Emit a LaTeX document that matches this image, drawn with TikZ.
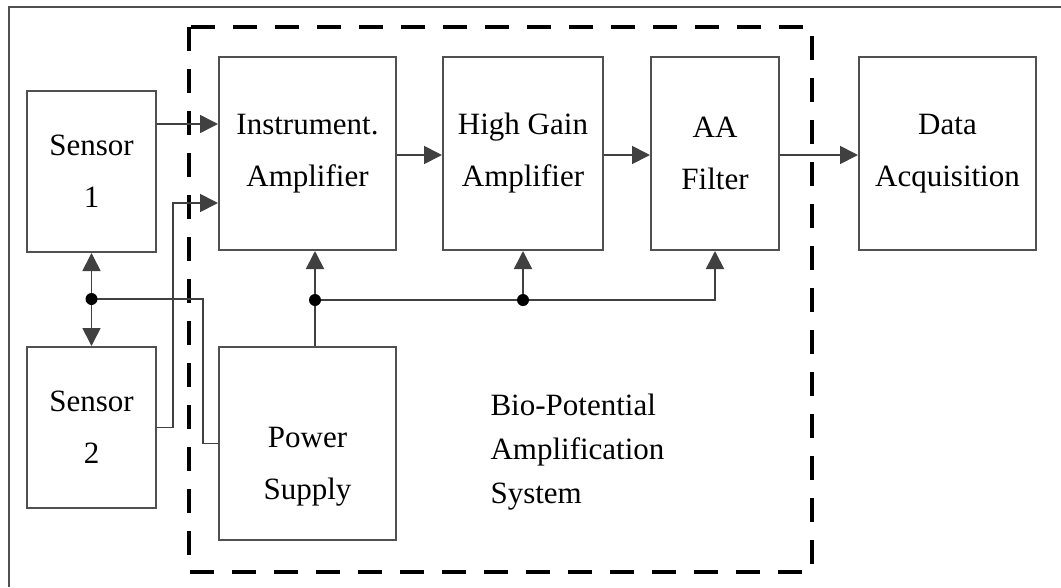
\documentclass[tikz,border=0pt]{standalone}
\usepackage{fontspec}
\setmainfont{Liberation Serif}
\usetikzlibrary{arrows.meta}
\definecolor{boxgray}{HTML}{505050}
\definecolor{linegray}{HTML}{404040}
\begin{document}
\begin{tikzpicture}[x=1pt,y=-1pt,
  txt/.style={font=\fontsize{31}{52}\selectfont, align=center},
  blk/.style={draw=boxgray, line width=2pt, inner sep=0pt, txt},
  wire/.style={draw=linegray, line width=1.7pt},
  conn/.style={wire, -{Triangle[length=18pt,width=18pt]}},
  dashbox/.style={draw=black, line width=3.8pt, dash pattern=on 24pt off 18pt},
  junc/.style={fill=black}
]
\useasboundingbox (0,0) rectangle (1061,587);
\fill[white] (0,0) rectangle (1061,587);
% outer frame
\draw[draw=boxgray, line width=2pt] (9,587) -- (9,7) -- (1061,7);
% dashed system boundary
\draw[dashbox] (189,27) rectangle (812,572);

% blocks
\node[blk, minimum width=129pt, minimum height=161pt] (s1) at (91.5,171.5) {Sensor\\1};
\node[blk, minimum width=129pt, minimum height=161pt] (s2) at (91.5,427.5) {Sensor\\2};
\node[blk, minimum width=177pt, minimum height=193pt] (ia) at (307.5,153.5) {Instrument.\\Amplifier};
\node[blk, minimum width=160pt, minimum height=193pt] (hg) at (523,153.5) {High Gain\\Amplifier};
\node[blk, minimum width=128pt, minimum height=193pt] (af) at (715,153.5) {AA\\Filter};
\node[blk, minimum width=177pt, minimum height=193pt] (da) at (947.5,153.5) {Data\\Acquisition};
\node[blk, minimum width=177pt, minimum height=193pt,
      label={[name=pstext, txt, yshift=-23pt]center:Power\\Supply}] (ps) at (307.5,443.5) {};
\node[txt, align=left, font=\fontsize{31}{44}\selectfont, anchor=west] (bio) at (487,452)
  {Bio-Potential\\Amplification\\System};

% helper coordinates
\coordinate (y1) at (0,124);
\coordinate (y2) at (0,203);
\coordinate (y3) at (0,155);
\coordinate (j1) at (91.5,299);
\coordinate (j2) at (315,300);
\coordinate (j3) at (523,300);
\coordinate (k1) at (203,299);

% signal path
\draw[conn] (s1.east |- y1) -- (ia.west |- y1);
\draw[conn] (s2.east) -- ++(16,0) |- (ia.west |- y2);
\draw[conn] (ia.east |- y3) -- (hg.west |- y3);
\draw[conn] (hg.east |- y3) -- (af.west |- y3);
\draw[conn] (af.east |- y3) -- (da.west |- y3);

% reference / power connections
\draw[conn] (j1) -- (s1.south);
\draw[conn] (j1) -- (s2.north);
\draw[wire] (j1) -- (k1) |- (ps.west);
\draw[wire] (ps.north -| j2) -- (j2);
\draw[conn] (j2) -- (ia.south -| j2);
\draw[conn] (j2) -| (af.south);
\draw[conn] (j3) -- (hg.south -| j3);

\fill[junc] (j1) circle (6pt);
\fill[junc] (j2) circle (6pt);
\fill[junc] (j3) circle (6pt);
\end{tikzpicture}
\end{document}
